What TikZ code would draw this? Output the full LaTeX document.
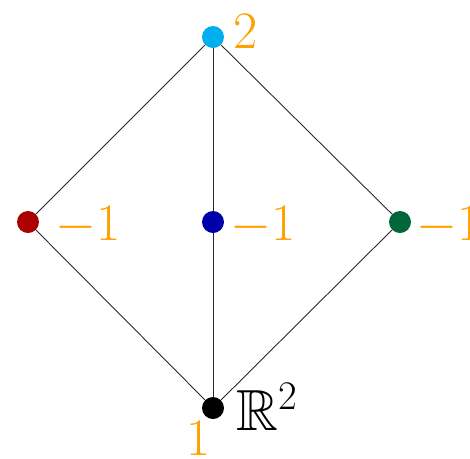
\RequirePackage{fix-cm}
\documentclass[tikz,border=0pt]{standalone}
\usepackage{amssymb}
\usetikzlibrary{positioning}
\definecolor{dotred}{RGB}{170,0,0}
\definecolor{dotblue}{RGB}{0,0,170}
\definecolor{dotgreen}{RGB}{0,102,60}
\definecolor{dotcyan}{RGB}{0,174,239}
\definecolor{wt}{RGB}{255,160,0}
\begin{document}
\begin{tikzpicture}[x=0.02cm,y=-0.02cm,
    every node/.style={font=\fontsize{33}{40}\selectfont},
    vtx/.style={circle,fill,inner sep=0pt,minimum size=0.44cm},
    wlab/.style={text=wt,inner sep=0pt,font=\fontsize{30}{36}\selectfont},
    edge/.style={black!85,line width=0.5pt}]
    \useasboundingbox (0,0) rectangle (470,458);
    % vertices
    \node[vtx,dotcyan] (top) at (213,37) {};
    \node[vtx,dotred] (left) at (28,222) {};
    \node[vtx,dotblue] (mid) at (213,222) {};
    \node[vtx,dotgreen] (right) at (400,222) {};
    \node[vtx,black] (bot) at (213,408) {};

    % edges
    \draw[edge] (top) -- (left);
    \draw[edge] (top) -- (mid);
    \draw[edge] (top) -- (right);
    \draw[edge] (left) -- (bot);
    \draw[edge] (mid) -- (bot);
    \draw[edge] (right) -- (bot);

    % weights
    \node[wlab,anchor=west] (wtop) at (233,32) {$2$};
    \node[wlab,anchor=west] (wleft) at (55,226) {$-1$};
    \node[wlab,anchor=west] (wmid) at (230,226) {$-1$};
    \node[wlab,anchor=west] (wright) at (416,226) {$-1$};
    \node[wlab] (wbot) at (199,438) {$1$};
    \node[inner sep=0pt,anchor=west] (space) at (236,407) {$\mathbb{R}^2$};
  \end{tikzpicture}
\end{document}
